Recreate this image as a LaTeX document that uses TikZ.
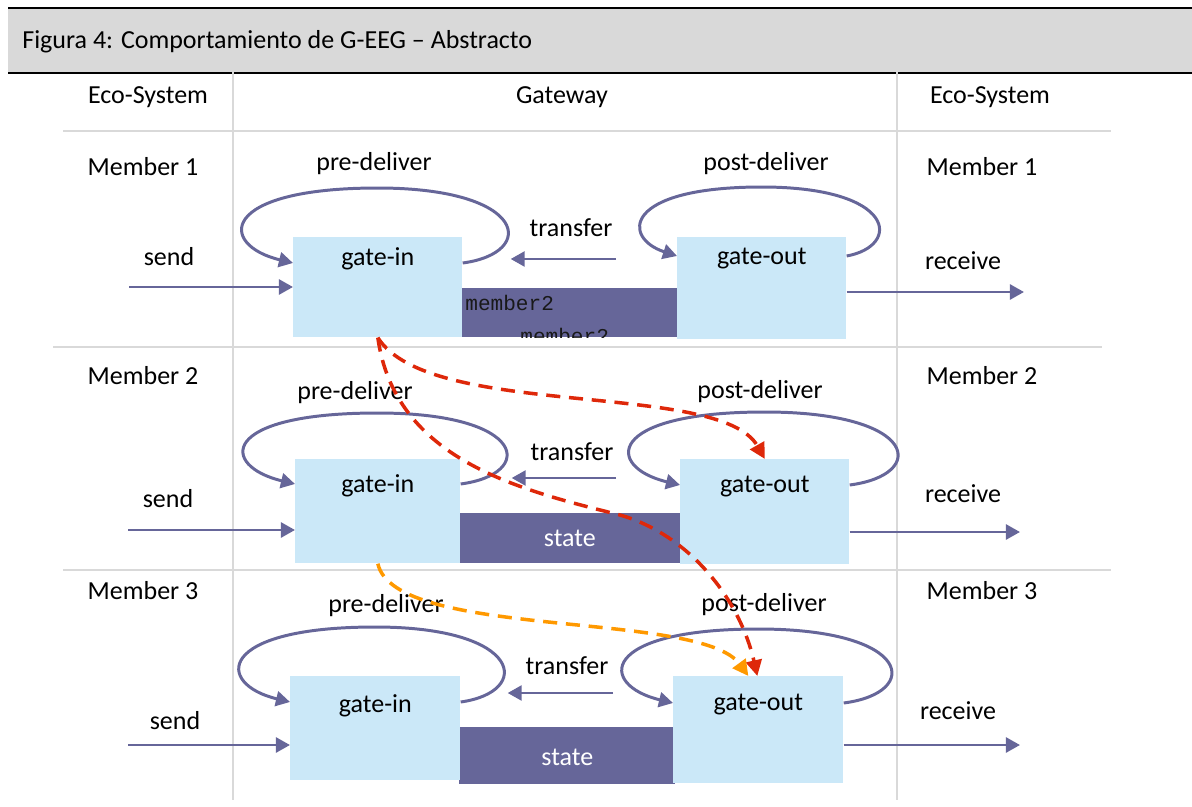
\documentclass[tikz,border=0pt]{standalone}
\usepackage{fontspec}
\setmainfont{Carlito}
\newfontfamily\memberfont{Liberation Mono}
\usetikzlibrary{arrows.meta, positioning}

\definecolor{gateblue}{RGB}{203,232,248}
\definecolor{statepurple}{RGB}{102,102,153}
\definecolor{rulegray}{RGB}{217,217,217}
\definecolor{pathred}{RGB}{222,40,10}
\definecolor{pathorange}{RGB}{255,153,0}

\begin{document}
\begin{tikzpicture}[x=0.02cm, y=-0.02cm,
    every node/.style={font=\fontsize{14.8}{17}\selectfont},
    gatebox/.style={fill=gateblue, draw=none, anchor=north west, inner sep=0pt, minimum width=3.38cm, minimum height=2.04cm},
    statebox/.style={fill=statepurple, draw=none, anchor=north west, inner sep=0pt, minimum width=4.4cm, minimum height=1cm},
    flow/.style={draw=statepurple, line width=1.6pt, -{Triangle[length=8pt, width=8.5pt]}},
    loopline/.style={draw=statepurple, line width=1.7pt, -{Triangle[length=8pt, width=8.5pt]}},
    hop/.style={line width=2pt, dash pattern=on 8pt off 5pt, -{Triangle[length=9pt, width=9pt]}},
    rule/.style={draw=rulegray, line width=1.6pt}]
				\useasboundingbox (0,0) rectangle (1192,807);

				\fill[rulegray] (8,9) rectangle (1192,72);
				\draw[line width=1.7pt] (8,8) -- (1192,8);
				\draw[line width=1.7pt] (8,73) -- (1192,73);
				\node[anchor=west, inner sep=0pt] (title) at (22,42) {Figura 4: Comportamiento de G-EEG -- Abstracto};

				\draw[rule] (233,60) -- (233,800);
				\draw[rule] (897,60) -- (897,800);
				\draw[rule] (63,131) -- (1111,131);
				\draw[rule] (53,347) -- (1102,347);
				\draw[rule] (63,570) -- (1111,570);

				\node (ecoleft) at (148,97) {Eco-System};
				\node (gateway) at (562,97) {Gateway};
				\node (ecoright) at (990,97) {Eco-System};

				% member 1
				\node (mleft1) at (143,167) {Member 1};
				\node (mright1) at (982,167) {Member 1};
				\node[statebox, minimum width=4.36cm, minimum height=0.98cm] (mem1) at (462,288) {};
				\begin{scope}
					\clip (mem1.north west) rectangle (mem1.south east);
					\node[anchor=base west, inner sep=0pt, text=black!90, font=\memberfont\fontsize{12}{14}\selectfont] (memtxt1) at (465,311) {member2};
					\node[anchor=base west, inner sep=0pt, text=black!90, font=\memberfont\fontsize{12}{14}\selectfont] (memtxt2) at (520,343) {member2};
				\end{scope}
				\node[gatebox, minimum height=2cm] (gin1) at (293,237) {};
				\node[gatebox] (gout1) at (677,237) {};
				\node at ([yshift=-0.44cm]gin1.north) {gate-in};
				\node at ([yshift=-0.44cm]gout1.north) {gate-out};
				\node (pre1) at (374,164) {pre-deliver};
				\node (post1) at (766,164) {post-deliver};
				\node (tr1) at (571,228) {transfer};
				\node (send1) at (169,257) {send};
				\node (recv1) at (963,261) {receive};
				\coordinate (in1) at (129,287);
				\coordinate (out1) at (1024,292);
				\draw[flow] (in1) -- (in1 -| gin1.west);
				\draw[flow] (out1 -| gout1.east) -- (out1);
				\draw[flow, shorten <=1.22cm, shorten >=0.96cm] ([yshift=-0.44cm]gout1.north west) -- ([yshift=-0.44cm]gin1.north east);
				\draw[loopline] ([yshift=-0.52cm]gin1.north east) .. controls +(75,-10) and +(150,0) .. ([yshift=0.98cm]gin1.north) .. controls +(-160,0) and +(-75,-18) .. ([yshift=-0.52cm]gin1.north west);
				\draw[loopline] ([yshift=-0.38cm]gout1.north east) .. controls +(55,-10) and +(135,0) .. ([yshift=1cm]gout1.north) .. controls +(-140,0) and +(-55,-18) .. ([yshift=-0.38cm]gout1.north west);

				% member 2
				\node (mleft2) at (143,376) {Member 2};
				\node (mright2) at (982,376) {Member 2};
				\node[statebox, minimum width=4.42cm] (state2) at (459,513) {};
				\node[text=white] at (state2.center) {state};
				\node[gatebox, minimum width=3.3cm, minimum height=2.08cm] (gin2) at (295,459) {};
				\node[gatebox, minimum height=2.1cm] (gout2) at (680,459) {};
				\node at ([yshift=-0.54cm]gin2.north) {gate-in};
				\node at ([yshift=-0.56cm]gout2.north) {gate-out};
				\node (pre2) at (355,393) {pre-deliver};
				\node (post2) at (760,392) {post-deliver};
				\node (tr2) at (572,452) {transfer};
				\node (send2) at (168,499) {send};
				\node (recv2) at (963,494) {receive};
				\coordinate (in2) at (128,530);
				\coordinate (out2) at (1020,532);
				\draw[flow] (in2) -- (in2 -| gin2.west);
				\draw[flow] (out2 -| gout2.east) -- (out2);
				\draw[flow, shorten <=1.28cm, shorten >=1.02cm] ([yshift=-0.38cm]gout2.north west) -- ([yshift=-0.38cm]gin2.north east);
				\draw[loopline] ([yshift=-0.5cm]gin2.north east) .. controls +(75,-10) and +(150,0) .. ([yshift=0.92cm]gin2.north) .. controls +(-160,0) and +(-75,-18) .. ([yshift=-0.5cm]gin2.north west);
				\draw[loopline] ([yshift=-0.52cm]gout2.north east) .. controls +(78,-10) and +(155,0) .. ([yshift=0.94cm]gout2.north) .. controls +(-160,0) and +(-75,-18) .. ([yshift=-0.52cm]gout2.north west);

				% member 3
				\node (mleft3) at (143,591) {Member 3};
				\node (mright3) at (982,591) {Member 3};
				\node[statebox, minimum width=4.32cm, minimum height=1.14cm] (state3) at (459,727) {};
				\node[text=white] at ([yshift=-0.04cm]state3.center) {state};
				\node[gatebox, minimum width=3.4cm, minimum height=2.08cm] (gin3) at (290,676) {};
				\node[gatebox, minimum width=3.4cm, minimum height=2.14cm] (gout3) at (673,676) {};
				\node at ([yshift=-0.6cm]gin3.north) {gate-in};
				\node at ([yshift=-0.58cm]gout3.north) {gate-out};
				\node (pre3) at (386,606) {pre-deliver};
				\node (post3) at (764,605) {post-deliver};
				\node (tr3) at (567,666) {transfer};
				\node (send3) at (175,721) {send};
				\node (recv3) at (958,711) {receive};
				\coordinate (in3) at (128,745);
				\coordinate (out3) at (1020,745);
				\draw[flow] (in3) -- (in3 -| gin3.west);
				\draw[flow] (out3 -| gout3.east) -- (out3);
				\draw[flow, shorten <=1.2cm, shorten >=0.94cm] ([yshift=-0.34cm]gout3.north west) -- ([yshift=-0.34cm]gin3.north east);
				\draw[loopline] ([yshift=-0.52cm]gin3.north east) .. controls +(72,-10) and +(148,0) .. ([yshift=0.98cm]gin3.north) .. controls +(-160,0) and +(-75,-18) .. ([yshift=-0.52cm]gin3.north west);
				\draw[loopline] ([yshift=-0.54cm]gout3.north east) .. controls +(78,-10) and +(155,0) .. ([yshift=0.94cm]gout3.north) .. controls +(-160,0) and +(-75,-18) .. ([yshift=-0.54cm]gout3.north west);

				\draw[hop, pathred] (gin1.south) .. controls (430,420) and (720,380) .. (gout2.north);
				\draw[hop, pathred] (gin1.south) .. controls (395,460) and (520,490) .. (620,515) .. controls (690,535) and (740,600) .. ([xshift=-0.02cm]gout3.north);
				\draw[hop, pathorange] (gin2.south) .. controls (395,640) and (700,610) .. ([xshift=-0.2cm]gout3.north);

			\end{tikzpicture}
\end{document}
